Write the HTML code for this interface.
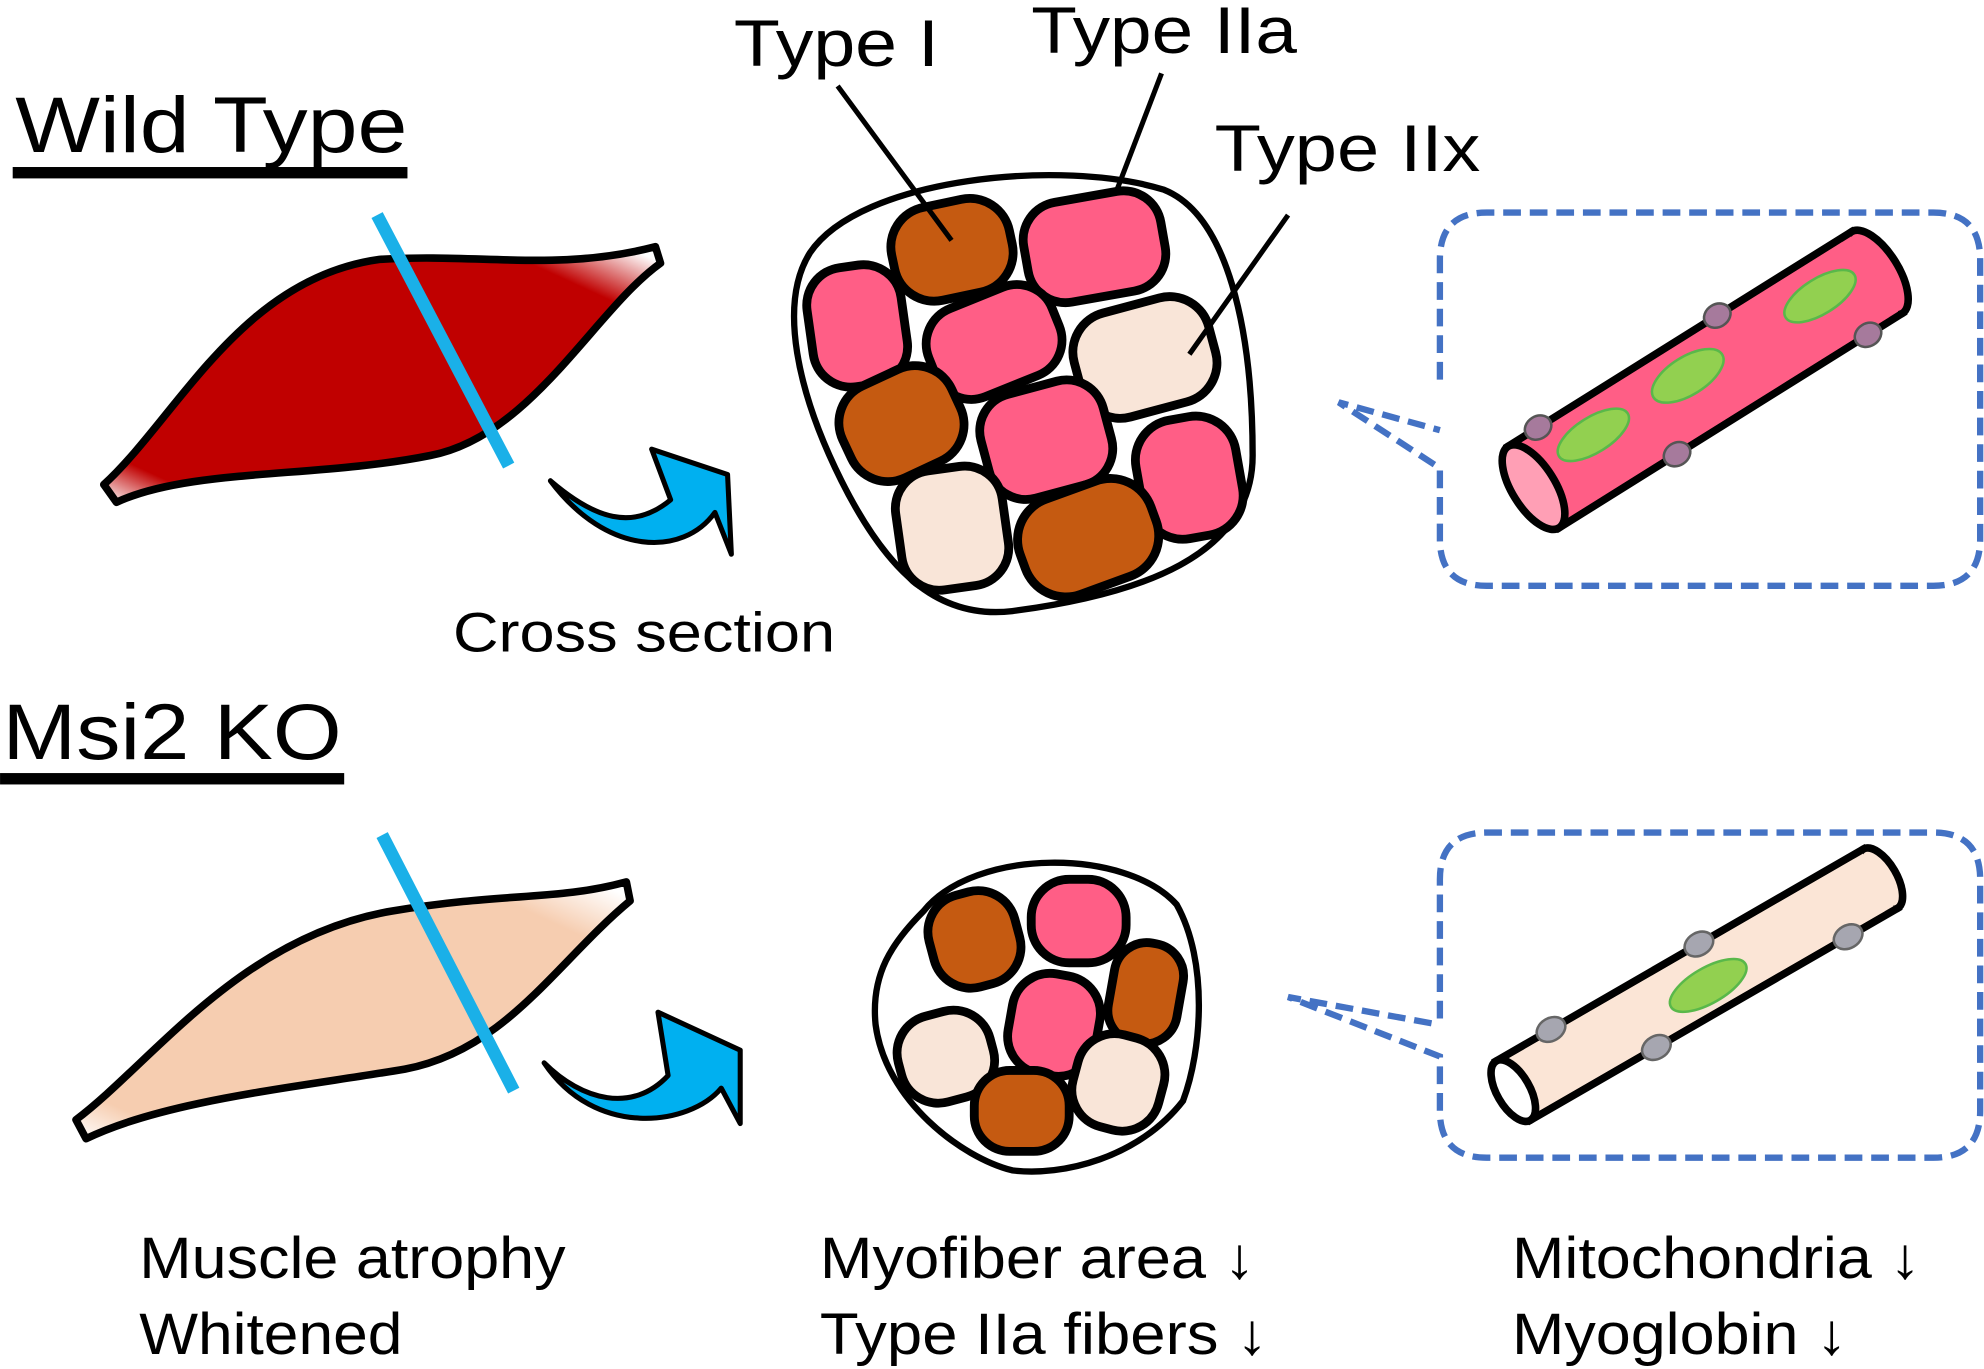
<!DOCTYPE html>
<html><head><meta charset="utf-8"><style>
html,body{margin:0;padding:0;background:#fff}
svg{display:block}
text{font-family:"Liberation Sans",Arial,sans-serif;fill:#000}
</style></head><body>
<svg width="1984" height="1369" viewBox="0 0 1568 1082" xmlns="http://www.w3.org/2000/svg">
<defs>
<linearGradient id="rg" x1="0" y1="1" x2="1" y2="0">
<stop offset="0" stop-color="#fff"/><stop offset="0.1" stop-color="#c00000"/><stop offset="0.85" stop-color="#c00000"/><stop offset="0.97" stop-color="#fff"/></linearGradient>
<linearGradient id="bg" x1="0" y1="1" x2="1" y2="0">
<stop offset="0" stop-color="#fff"/><stop offset="0.1" stop-color="#f6cdb0"/><stop offset="0.85" stop-color="#f6cdb0"/><stop offset="0.97" stop-color="#fff"/></linearGradient>
</defs>

<!-- Titles -->
<text x="12" y="120" font-size="62" textLength="310" lengthAdjust="spacingAndGlyphs">Wild Type</text>
<rect x="10" y="132" width="312" height="9" fill="#000"/>
<text x="2" y="600" font-size="62" textLength="268" lengthAdjust="spacingAndGlyphs">Msi2 KO</text>
<rect x="0" y="611" width="272" height="9" fill="#000"/>

<!-- WT muscle -->
<path d="M82,383 C140,330 190,220 300,205 C380,200 440,215 518,195 L522,208 C470,245 420,345 340,360 C250,378 150,370 92,397 Z" fill="url(#rg)" stroke="#000" stroke-width="6" stroke-linejoin="round"/>
<line x1="298" y1="170" x2="402" y2="368" stroke="#1ab0e8" stroke-width="10"/>
<path d="M435,380 C470,410 500,420 530,395 L515,355 L575,375 L578,438 L565,405 C540,440 480,440 435,380 Z" fill="#00b0f0" stroke="#000" stroke-width="4" stroke-linejoin="round"/>
<text x="358" y="515" font-size="44" textLength="302" lengthAdjust="spacingAndGlyphs">Cross section</text>

<!-- WT cross section -->
<path d="M640,200 C680,140 840,125 920,150 C970,170 990,260 990,360 C990,440 900,470 800,483 C740,490 700,450 665,380 C630,310 615,240 640,200 Z" fill="#fff" stroke="#000" stroke-width="5"/>
<g stroke="#000" stroke-width="7">
<rect x="705" y="160" width="95" height="75" rx="32" fill="#c55a11" transform="rotate(-12 752 198)"/>
<rect x="810" y="155" width="110" height="80" rx="30" fill="#ff5e86" transform="rotate(-10 865 195)"/>
<rect x="640" y="210" width="75" height="95" rx="30" fill="#ff5e86" transform="rotate(-8 678 258)"/>
<rect x="733" y="233" width="105" height="75" rx="30" fill="#ff5e86" transform="rotate(-22 785 270)"/>
<rect x="850" y="240" width="110" height="85" rx="32" fill="#f9e5d8" transform="rotate(-15 905 283)"/>
<rect x="665" y="295" width="95" height="80" rx="32" fill="#c55a11" transform="rotate(-25 712 335)"/>
<rect x="777" y="305" width="100" height="85" rx="30" fill="#ff5e86" transform="rotate(-15 827 348)"/>
<rect x="900" y="330" width="80" height="95" rx="32" fill="#ff5e86" transform="rotate(-10 940 378)"/>
<rect x="710" y="370" width="85" height="95" rx="30" fill="#f9e5d8" transform="rotate(-8 752 418)"/>
<rect x="805" y="385" width="110" height="80" rx="34" fill="#c55a11" transform="rotate(-20 860 425)"/>
</g>
<g stroke="#000" stroke-width="4">
<line x1="662" y1="68" x2="752" y2="190"/>
<line x1="918" y1="58" x2="882" y2="152"/>
<line x1="1018" y1="170" x2="940" y2="280"/>
</g>
<text x="580" y="52" font-size="52" textLength="162" lengthAdjust="spacingAndGlyphs">Type I</text>
<text x="815" y="42" font-size="52" textLength="210" lengthAdjust="spacingAndGlyphs">Type IIa</text>
<text x="960" y="135" font-size="52" textLength="210" lengthAdjust="spacingAndGlyphs">Type IIx</text>

<!-- WT callout -->
<path d="M1138,300 L1138,205 Q1138,168 1175,168 L1528,168 Q1565,168 1565,205 L1565,426 Q1565,463 1528,463 L1175,463 Q1138,463 1138,426 L1138,370 L1058,318 L1138,340" fill="none" stroke="#4472c4" stroke-width="5" stroke-dasharray="14,7"/>
<g transform="translate(1212,385) rotate(-32)">
<rect x="0" y="-38" width="320" height="76" fill="#ff5e86" stroke="#000" stroke-width="6"/>
<ellipse cx="320" cy="0" rx="17" ry="38" fill="#ff5e86" stroke="#000" stroke-width="6"/>
<rect x="0" y="-35" width="318" height="70" fill="#ff5e86"/>
<ellipse cx="0" cy="0" rx="17" ry="38" fill="#ff9fb5" stroke="#000" stroke-width="6"/>
<ellipse cx="150" cy="-10" rx="32" ry="15" fill="#92d050" stroke="#59b84a" stroke-width="2"/>
<ellipse cx="62" cy="-10" rx="32" ry="14" fill="#92d050" stroke="#59b84a" stroke-width="2"/>
<ellipse cx="272" cy="-8" rx="32" ry="14" fill="#92d050" stroke="#59b84a" stroke-width="2"/>
<ellipse cx="28" cy="-38" rx="11" ry="9" fill="#a67a9c" stroke="#555" stroke-width="2"/>
<ellipse cx="195" cy="-38" rx="11" ry="9" fill="#a67a9c" stroke="#555" stroke-width="2"/>
<ellipse cx="110" cy="38" rx="11" ry="9" fill="#a67a9c" stroke="#555" stroke-width="2"/>
<ellipse cx="288" cy="38" rx="11" ry="9" fill="#a67a9c" stroke="#555" stroke-width="2"/>
</g>

<!-- KO muscle -->
<path d="M60,885 C120,840 190,740 310,720 C400,705 440,712 495,697 L498,712 C440,760 400,830 320,845 C230,860 130,870 68,900 Z" fill="url(#bg)" stroke="#000" stroke-width="6" stroke-linejoin="round"/>
<line x1="302" y1="660" x2="406" y2="862" stroke="#1ab0e8" stroke-width="10"/>
<path d="M430,840 C460,870 500,880 528,850 L520,800 L585,830 L585,888 L570,860 C545,890 470,900 430,840 Z" fill="#00b0f0" stroke="#000" stroke-width="4" stroke-linejoin="round"/>

<!-- KO cross section -->
<path d="M730,720 C770,670 890,670 930,715 C955,760 950,830 935,870 C900,915 840,930 800,925 C760,915 700,870 692,810 C688,770 705,745 730,720 Z" fill="#fff" stroke="#000" stroke-width="5"/>
<g stroke="#000" stroke-width="7">
<rect x="815" y="695" width="75" height="66" rx="30" fill="#ff5e86"/>
<rect x="735" y="705" width="70" height="75" rx="30" fill="#c55a11" transform="rotate(-15 770 742)"/>
<rect x="878" y="745" width="55" height="80" rx="26" fill="#c55a11" transform="rotate(10 905 785)"/>
<rect x="798" y="770" width="70" height="80" rx="30" fill="#ff5e86" transform="rotate(10 833 810)"/>
<rect x="710" y="800" width="75" height="70" rx="30" fill="#f9e5d8" transform="rotate(-15 748 835)"/>
<rect x="849" y="818" width="70" height="75" rx="30" fill="#f9e5d8" transform="rotate(15 884 855)"/>
<rect x="770" y="846" width="75" height="64" rx="28" fill="#c55a11"/>
</g>

<!-- KO callout -->
<path d="M1138,805 L1138,695 Q1138,658 1175,658 L1528,658 Q1565,658 1565,695 L1565,878 Q1565,915 1528,915 L1175,915 Q1138,915 1138,878 L1138,835 L1018,788 L1138,810" fill="none" stroke="#4472c4" stroke-width="5" stroke-dasharray="14,7"/>
<g transform="translate(1196,862) rotate(-30)">
<rect x="0" y="-27" width="335" height="54" fill="#fbe5d6" stroke="#000" stroke-width="6"/>
<ellipse cx="335" cy="0" rx="13" ry="27" fill="#fbe5d6" stroke="#000" stroke-width="6"/>
<rect x="0" y="-24" width="333" height="48" fill="#fbe5d6"/>
<ellipse cx="0" cy="0" rx="13" ry="27" fill="#fff" stroke="#000" stroke-width="6"/>
<ellipse cx="175" cy="5" rx="34" ry="14" fill="#92d050" stroke="#59b84a" stroke-width="2"/>
<ellipse cx="50" cy="-27" rx="12" ry="9" fill="#a6a6b0" stroke="#666" stroke-width="2"/>
<ellipse cx="185" cy="-27" rx="12" ry="9" fill="#a6a6b0" stroke="#666" stroke-width="2"/>
<ellipse cx="115" cy="27" rx="12" ry="9" fill="#a6a6b0" stroke="#666" stroke-width="2"/>
<ellipse cx="290" cy="27" rx="12" ry="9" fill="#a6a6b0" stroke="#666" stroke-width="2"/>
</g>

<!-- bottom text -->
<g font-size="46">
<text x="110" y="1010" textLength="337" lengthAdjust="spacingAndGlyphs">Muscle atrophy</text>
<text x="110" y="1070" textLength="208" lengthAdjust="spacingAndGlyphs">Whitened</text>
<text x="648" y="1010" textLength="344" lengthAdjust="spacingAndGlyphs">Myofiber area ↓</text>
<text x="648" y="1070" textLength="354" lengthAdjust="spacingAndGlyphs">Type IIa fibers ↓</text>
<text x="1195" y="1010" textLength="323" lengthAdjust="spacingAndGlyphs">Mitochondria ↓</text>
<text x="1195" y="1070" textLength="265" lengthAdjust="spacingAndGlyphs">Myoglobin ↓</text>
</g>
</svg>
</body></html>
